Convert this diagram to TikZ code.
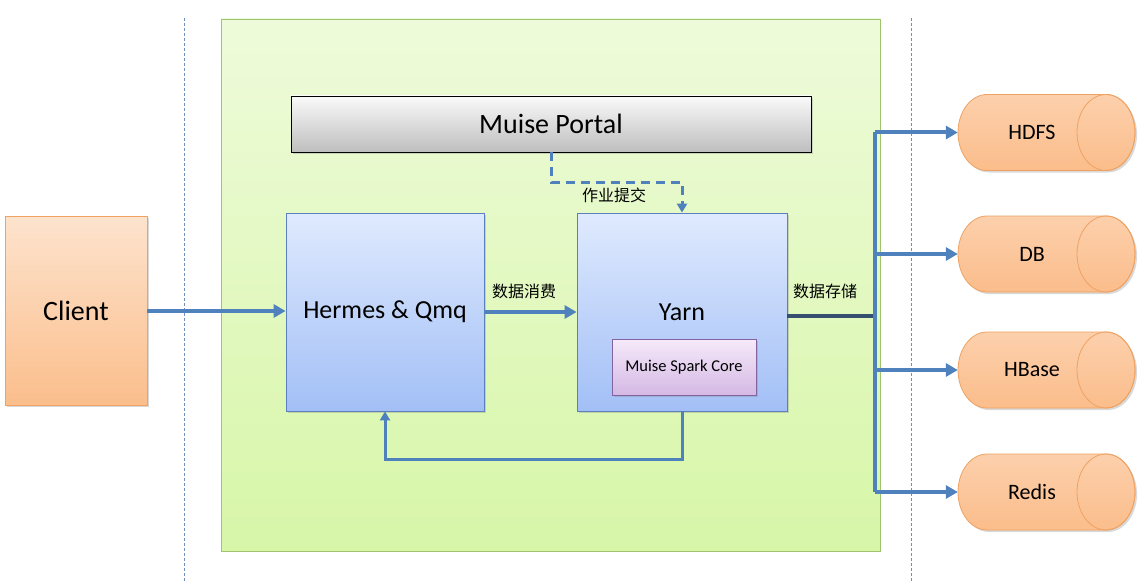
\documentclass[tikz,border=0pt]{standalone}
\usepackage{fontspec}
\setmainfont{Carlito}
\newfontfamily\cjk{Noto Sans CJK SC}
\usetikzlibrary{arrows.meta,shadows}
\definecolor{flowblue}{HTML}{4F81BD}
\definecolor{darkflow}{HTML}{34506E}
\definecolor{sepline}{HTML}{6F8FB8}
\tikzset{
  fs/.style={font=\fontsize{#1}{#1}\selectfont},
  flow/.style={draw=flowblue, line width=4pt, -{Triangle[length=12pt,width=13pt]}},
  thinflow/.style={draw=flowblue, line width=3pt, -{Triangle[length=9pt,width=10pt]}},
  dflow/.style={draw=flowblue, line width=3pt, dash pattern=on 9pt off 6pt, -{Triangle[length=9pt,width=10pt]}},
  shad/.style={drop shadow={opacity=0.3, shadow xshift=2pt, shadow yshift=-2pt}},
  bluebox/.style={draw=HTMLblueb, top color=HTMLbluet, bottom color=HTMLblued, line width=0.8pt, shad, minimum width=#1, minimum height=198pt, inner sep=0pt},
  lbl/.style={font=\cjk\fontsize{16}{16}\selectfont, inner sep=0pt},
  cyltext/.style={minimum width=148pt, minimum height=76pt, inner sep=0pt, fs=22},
}
\definecolor{HTMLbluet}{HTML}{DFEAFE}
\definecolor{HTMLblued}{HTML}{A2BFF6}
\definecolor{HTMLblueb}{HTML}{5B7FBF}
\definecolor{orangeT}{HTML}{FDE3CD}
\definecolor{orangeB}{HTML}{FBBE8C}
\definecolor{orangeE}{HTML}{EFA262}
\definecolor{cylT}{HTML}{FCD0AC}
\definecolor{cylB}{HTML}{FBBD8B}
\newcommand{\dbcylinder}[3]{%
  % #1 name, #2 center y, #3 text ; body x from 958 to 1135, rx=29, ry=38
  \path[fill=black, opacity=0.15] (989,#2-36) -- (1108,#2-36) arc[start angle=90,end angle=-90,x radius=29pt,y radius=38pt]
     -- (989,#2+40) arc[start angle=-90,end angle=-270,x radius=29pt,y radius=38pt] -- cycle;
  \path[draw=orangeE, line width=0.8pt, top color=cylT, bottom color=cylB]
     (987,#2-38) -- (1106,#2-38) arc[start angle=90,end angle=-90,x radius=29pt,y radius=38pt]
     -- (987,#2+38) arc[start angle=-90,end angle=-270,x radius=29pt,y radius=38pt] -- cycle;
  \draw[orangeE, line width=0.8pt] (1106,#2) ellipse[x radius=29pt, y radius=38pt];
  \node[cyltext] (#1) at (1032,#2) {#3};
}
\begin{document}
\begin{tikzpicture}[x=1pt,y=-1pt]
\useasboundingbox[fill=white] (0,0) rectangle (1140,583);
% separators
\draw[sepline, line width=0.8pt, dash pattern=on 3pt off 2pt] (184,18) -- (184,583);
\draw[sepline, line width=0.8pt, dash pattern=on 3pt off 2pt] (911,18) -- (911,583);
% green panel
\path[draw={rgb,255:red,160;green,196;blue,110}, line width=0.8pt,
  top color={rgb,255:red,238;green,251;blue,218}, bottom color={rgb,255:red,215;green,246;blue,168}]
  (221,19) rectangle (880,551);
% portal
\node[draw=black, line width=0.8pt, top color={rgb,255:red,250;green,250;blue,250}, bottom color={rgb,255:red,190;green,190;blue,190},
  shad, minimum width=520pt, minimum height=56pt, inner sep=0pt, fs=28] (portal) at (551,124) {Muise Portal};
% client
\node[draw=orangeE, line width=0.8pt, top color=orangeT, bottom color=orangeB, shad,
  minimum width=142pt, minimum height=189pt, inner sep=0pt, fs=28] (client) at (76,310.5) {Client};
% hermes & yarn
\node[bluebox=198pt, fs=26] (hermes) at (385,312) {Hermes \& Qmq};
\node[bluebox=210pt, fs=26] (yarn) at (682,312) {Yarn};
\node[draw={rgb,255:red,130;green,100;blue,160}, line width=0.8pt, top color={rgb,255:red,246;green,234;blue,250},
  bottom color={rgb,255:red,212;green,184;blue,228}, shad, minimum width=144pt, minimum height=56pt, inner sep=0pt, fs=16.5]
  (spark) at (684,367) {Muise Spark Core};
% databases
\dbcylinder{hdfs}{132.5}{HDFS}
\dbcylinder{db}{254}{DB}
\dbcylinder{hbase}{370}{HBase}
\dbcylinder{redis}{492}{Redis}
% connectors
\draw[flow] (client.east |- 0,311) -- (hermes.west |- 0,311);
\draw[flow] (hermes.east) -- (yarn.west);
\node[lbl] (l1) at (524,291) {数据消费};
\draw[dflow] (portal.south) -- ++(0,30) -| (yarn.north);
\node[lbl] (l2) at (614,195) {作业提交};
\draw[thinflow] (yarn.south) -- ++(0,48) -| (hermes.south);
\coordinate (bus) at (875,316);
\draw[darkflow, line width=4pt] ([yshift=-4pt]yarn.east) -- (bus);
\node[lbl] (l3) at (825,291) {数据存储};
\coordinate (bt) at (875,132.5);
\coordinate (bb) at (875,492);
\draw[flowblue, line width=4pt] (bt) -- (bb);
\draw[flow] (bt) -- (hdfs.west);
\draw[flow] (bus |- db.west) -- (db.west);
\draw[flow] (bus |- hbase.west) -- (hbase.west);
\draw[flow] (bb) -- (redis.west);
\end{tikzpicture}
\end{document}
